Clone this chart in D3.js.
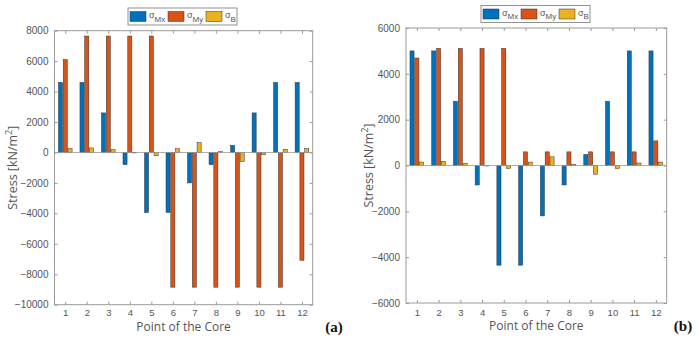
<!DOCTYPE html>
<html><head><meta charset="utf-8">
<script src="https://cdn.jsdelivr.net/npm/d3@7"></script>
<style>body{margin:0;background:#fff}svg{display:block}</style>
</head><body>
<svg id="c" width="700" height="343"></svg>
<script>
const categories = [1,2,3,4,5,6,7,8,9,10,11,12];
const seriesNames = ["Mx","My","B"];
const colors = ["#0072BD","#D95319","#EDB120"];
// Chart (a)
const aMx = [4600,4600,2600,-800,-3950,-3950,-2000,-800,470,2600,4600,4600];
const aMy = [6100,7650,7650,7650,7650,-8850,-8850,-8850,-8850,-8850,-8850,-7080];
const aB  = [250,300,180,-30,-220,250,650,50,-600,-150,200,250];
const aTicks = [8000,6000,4000,2000,0,-2000,-4000,-6000,-8000,-10000];
// Chart (b)
const bMx = [5000,5000,2800,-850,-4350,-4350,-2200,-850,480,2800,5000,5000];
const bMy = [4690,5110,5110,5110,5110,595,595,595,595,595,595,1075];
const bB  = [150,180,90,-20,-130,150,380,40,-380,-130,110,150];
const bTicks = [6000,4000,2000,0,-2000,-4000,-6000];

const svg = d3.select("#c");

function panel(o){
  const g = svg.append("g");
  const x = d3.scaleLinear().domain([0.5,12.5]).range([o.left,o.right]);
  const y = d3.scaleLinear().domain(o.domain).range([o.bottom,o.top]);
  const sp = x(2)-x(1);
  const series = [o.mx,o.my,o.b];
  const off = [-0.222,0,0.222];
  const bw = 0.19*sp;
  series.forEach((vals,si)=>{
    g.selectAll(null).data(vals).enter().append("rect")
      .attr("x",(d,i)=>x(categories[i])+off[si]*sp-bw/2)
      .attr("y",d=>Math.min(y(d),y(0)))
      .attr("width",bw)
      .attr("height",d=>Math.abs(y(d)-y(0)))
      .attr("fill",colors[si])
      .attr("stroke","#333").attr("stroke-width",0.5);
  });
  g.append("line").attr("x1",o.left).attr("x2",o.right).attr("y1",y(0)).attr("y2",y(0))
    .attr("stroke","#999").attr("stroke-width",0.8);
  const ax = "#9a9a9a";
  g.append("rect").attr("x",o.left).attr("y",o.top).attr("width",o.right-o.left).attr("height",o.bottom-o.top)
    .attr("fill","none").attr("stroke",ax).attr("stroke-width",1);
  const yl = g.append("g").attr("transform",`translate(${o.left},0)`)
    .call(d3.axisLeft(y).tickValues(o.ticks).tickSizeInner(-3).tickSizeOuter(0).tickPadding(6).tickFormat(d3.format("d")));
  yl.select(".domain").remove();
  yl.selectAll("line").attr("stroke",ax);
  yl.selectAll("text").attr("fill","#555").style("font-family","Liberation Sans, Arial, sans-serif").style("font-size","10px");
  const yr = g.append("g").attr("transform",`translate(${o.right},0)`)
    .call(d3.axisRight(y).tickValues(o.ticks).tickSizeInner(-3).tickSizeOuter(0).tickFormat(""));
  yr.select(".domain").remove(); yr.selectAll("line").attr("stroke",ax);
  const xb = g.append("g").attr("transform",`translate(0,${o.bottom})`)
    .call(d3.axisBottom(x).tickValues(categories).tickSizeInner(-3).tickSizeOuter(0).tickPadding(o.xpad));
  xb.select(".domain").remove(); xb.selectAll("line").attr("stroke",ax);
  xb.selectAll("text").attr("fill","#555").style("font-family","Liberation Sans, Arial, sans-serif").style("font-size","9.5px");
  const xt = g.append("g").attr("transform",`translate(0,${o.top})`)
    .call(d3.axisTop(x).tickValues(categories).tickSizeInner(-3).tickSizeOuter(0).tickFormat(""));
  xt.select(".domain").remove(); xt.selectAll("line").attr("stroke",ax);
  g.append("text").attr("x",(o.left+o.right)/2).attr("y",o.bottom+o.xlabDy).attr("text-anchor","middle")
    .attr("fill","#555").style("font-family","Open Sans, sans-serif").style("font-size","12px").text("Point of the Core");
  const ylab = g.append("text").attr("transform",`translate(${o.ylabX},${(o.top+o.bottom)/2}) rotate(-90)`)
    .attr("text-anchor","middle").attr("fill","#555").style("font-family","Open Sans, sans-serif").style("font-size","12.5px");
  ylab.append("tspan").text("Stress [kN/m");
  ylab.append("tspan").attr("dy",-5).style("font-size","9px").text("2");
  ylab.append("tspan").attr("dy",5).text("]");
  const lg = g.append("g").attr("transform",`translate(${o.legX},${o.legY})`);
  lg.append("rect").attr("x",0).attr("y",0).attr("width",109).attr("height",17).attr("fill","#fff").attr("stroke","#777").attr("stroke-width",0.8);
  const lx = [2,40,78];
  seriesNames.forEach((nm,i)=>{
    lg.append("rect").attr("x",lx[i]).attr("y",3.5).attr("width",16).attr("height",10).attr("fill",colors[i]).attr("stroke","#333").attr("stroke-width",0.5);
    const t = lg.append("text").attr("x",lx[i]+19).attr("y",10).attr("fill","#555")
      .style("font-family","Liberation Sans, Arial, sans-serif").style("font-size","9px");
    t.append("tspan").text("σ");
    t.append("tspan").attr("dy",3.5).style("font-size","8px").text(nm);
  });
  g.append("text").attr("x",o.tagX).attr("y",o.tagY).attr("text-anchor","middle").attr("fill","#111")
    .style("font-family","Liberation Serif, DejaVu Serif, serif").style("font-weight","bold").style("font-size","15px").text(o.tag);
}

panel({left:54.5,right:312.7,top:30.7,bottom:304.7,domain:[-10000,8000],ticks:aTicks,
  mx:aMx,my:aMy,b:aB,ylabX:17,xpad:5,xlabDy:26,legX:128,legY:8,tag:"(a)",tagX:334,tagY:332});
panel({left:406,right:666.7,top:28,bottom:303,domain:[-6000,6000],ticks:bTicks,
  mx:bMx,my:bMy,b:bB,ylabX:373,xpad:6,xlabDy:26.5,legX:481,legY:5.5,tag:"(b)",tagX:683,tagY:331});
</script>
</body></html>
